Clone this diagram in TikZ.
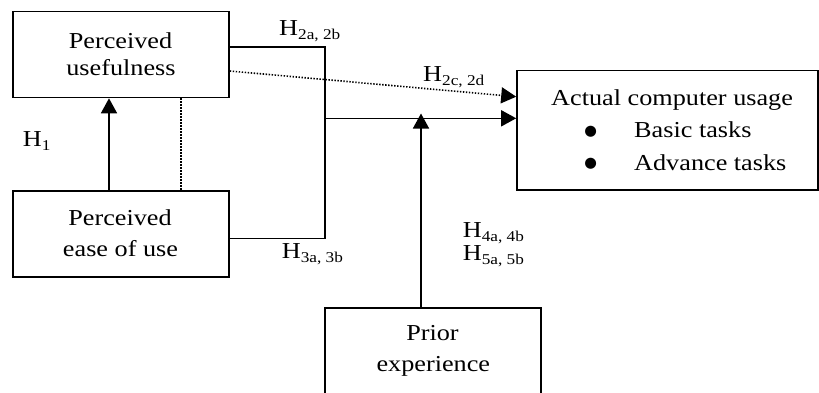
\documentclass[tikz,border=0pt]{standalone}
\usepackage{fontspec}
\setmainfont{Liberation Serif}
\newfontfamily\dejavu{DejaVu Sans}
\usetikzlibrary{arrows.meta}
\newcommand{\sx}[1]{\scalebox{1.15}[1]{#1}}
\newcommand{\hyp}[1]{\sx{H\raisebox{-4pt}{\fontsize{15}{15}\selectfont #1}}}
\begin{document}
\begin{tikzpicture}[x=1pt,y=-1pt,
  box/.style={draw, line width=1.6pt, inner sep=0pt},
  txt/.style={inner sep=0pt, anchor=base, font=\fontsize{22.8}{27}\selectfont},
  lab/.style={inner sep=0pt, anchor=base west, font=\fontsize{22.8}{27}\selectfont},
  bul/.style={inner sep=0pt, font=\dejavu\fontsize{14.5}{14.5}\selectfont},
  conn/.style={line width=1.6pt},
  arr/.style={conn, -{Triangle[length=15pt,width=16pt]}},
  dotline/.style={line width=1.6pt, dash pattern=on 1.4pt off 1.6pt}]
\clip (0,0) rectangle (819,392);
\fill[white] (0,0) rectangle (819,392);

% boxes
\node[box, minimum width=216pt, minimum height=86pt] (pu) at (121,54.5) {};
\node[box, minimum width=216pt, minimum height=86pt] (peou) at (121,233.7) {};
\node[box, minimum width=301pt, minimum height=119.5pt] (acu) at (667.5,130.4) {};
\node[box, minimum width=216pt, minimum height=92pt] (prior) at (433,354) {};

% box texts
\node[txt] (pu1) at (120.5,48.3) {\sx{Perceived}};
\node[txt] (pu2) at (121,75) {\sx{usefulness}};
\node[txt] (pe1) at (120,225) {\sx{Perceived}};
\node[txt] (pe2) at (120.5,256.7) {\sx{ease of use}};
\node[txt] (pr1) at (432.5,340) {\sx{Prior}};
\node[txt] (pr2) at (433.3,371.7) {\sx{experience}};
\node[lab] (acu1) at (551,105) {\sx{Actual computer usage}};
\node[lab] (acu2) at (634,137.7) {\sx{Basic tasks}};
\node[lab] (acu3) at (634,170) {\sx{Advance tasks}};
\node[bul] (bul1) at (590.7,131.7) {●};
\node[bul] (bul2) at (590.7,164) {●};

% helper coordinates
\coordinate (h1x) at (109,0);
\coordinate (dvx) at (181,0);
\coordinate (bt) at (325,46.7);
\coordinate (bb) at (325,238.3);
\coordinate (bm) at (325,118.3);
\coordinate (ds) at (229,71);
\coordinate (de) at (517,96.7);
\coordinate (pt) at (421,113.5);

% connectors
\draw[arr] (peou.north -| h1x) -- (pu.south -| h1x);
\draw[dotline] (pu.south -| dvx) -- (peou.north -| dvx);
\draw[conn] (pu.east |- bt) -- (bt) -- (bb) -- (peou.east |- bb);
\draw[arr] (bm) -- (acu.west |- bm);
\draw[dotline, -{Triangle[length=15pt,width=16pt]}] (pu.east |- ds) -- (acu.west |- de);
\draw[arr] (prior.north -| pt) -- (pt);

% labels
\node[lab] (h1) at (22.7,146.7) {\hyp{1}};
\node[lab] (h2ab) at (279,35.5) {\hyp{2a, 2b}};
\node[lab] (h2cd) at (423,81) {\hyp{2c, 2d}};
\node[lab] (h3) at (281.7,258.3) {\hyp{3a, 3b}};
\node[lab] (h4) at (462.7,237.3) {\hyp{4a, 4b}};
\node[lab] (h5) at (462.7,260) {\hyp{5a, 5b}};
\end{tikzpicture}
\end{document}
